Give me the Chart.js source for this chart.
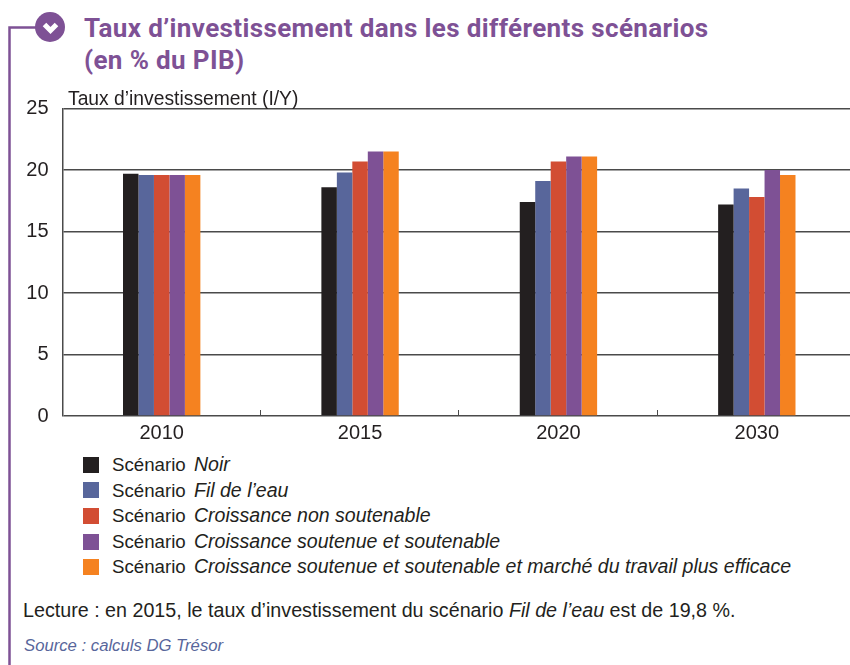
<!DOCTYPE html>
<html lang="fr">
<head>
<meta charset="utf-8">
<script src="https://cdn.jsdelivr.net/npm/chart.js@4"></script>
<style>
  html, body { margin: 0; padding: 0; background: #fff; }
  #page { position: relative; width: 850px; height: 665px; overflow: hidden; color: #231f20; font-family: "Liberation Sans", sans-serif; }
  #page > * { position: absolute; }
  canvas { left: 0; top: 0; }
  #frame { left: 0; top: 0; }
  #title { left: 84px; top: 12px; margin: 0; color: #7e5195; font: 700 26px/32px Roboto, sans-serif; letter-spacing: 0.37px; white-space: nowrap; }
  #axisTitle { left: 68px; top: 89px; font-size: 19.3px; line-height: 20px; white-space: nowrap; }
  #legend { left: 83px; top: 452px; margin: 0; padding: 0; list-style: none; font-size: 18.7px; }
  #legend li { height: 25.6px; line-height: 25.6px; white-space: nowrap; display: flex; align-items: center; }
  #legend i.box { width: 16px; height: 16px; margin-right: 13px; display: block; }
  #legend em { font-size: 19.55px; margin-left: 3px; }
  #note { left: 23px; top: 599px; font-size: 19.7px; line-height: 22px; white-space: nowrap; }
  #source { left: 24px; top: 636px; font-size: 16.7px; line-height: 20px; font-style: italic; color: #58669b; white-space: nowrap; }
</style>
</head>
<body>
<div id="page">
  <svg id="frame" width="850" height="665">
    <path d="M9.5 665V27.5H36" fill="none" stroke="#7e5195" stroke-width="2.5"/>
    <circle cx="50" cy="27" r="15" fill="#7e5195"/>
    <path d="M44.5 24.5l6 6 6-6" fill="none" stroke="#fff" stroke-width="5"/>
  </svg>
  <h1 id="title">Taux d’investissement dans les différents scénarios<br>(en % du PIB)</h1>
  <canvas id="chart" width="856" height="451"></canvas>
  <div id="axisTitle">Taux d’investissement (I/Y)</div>
  <ul id="legend"></ul>
  <div id="note">Lecture : en 2015, le taux d’investissement du scénario <em>Fil de l’eau</em> est de 19,8 %.</div>
  <div id="source">Source : calculs DG Trésor</div>
</div>
<script>
// Données
const categories = ['2010', '2015', '2020', '2030'];
const noir = [19.7, 18.6, 17.4, 17.2];
const filDeLeau = [19.6, 19.8, 19.1, 18.5];
const nonSoutenable = [19.6, 20.7, 20.7, 17.8];
const soutenue = [19.6, 21.5, 21.1, 20.0];
const soutenueTravail = [19.6, 21.5, 21.1, 19.6];

const seriesNames = [
    'Noir',
    'Fil de l’eau',
    'Croissance non soutenable',
    'Croissance soutenue et soutenable',
    'Croissance soutenue et soutenable et marché du travail plus efficace'
];
const seriesValues = [noir, filDeLeau, nonSoutenable, soutenue, soutenueTravail];
const seriesColors = ['#231f20', '#58669b', '#d24d33', '#7e5195', '#f58220'];

const gridColor = '#4a4a4a';

// Légende HTML : le nom du scénario est en italique
const legend = document.getElementById('legend');
seriesNames.forEach((name, i) => {
    const li = document.createElement('li');
    const box = document.createElement('i');
    box.className = 'box';
    box.style.background = seriesColors[i];
    const em = document.createElement('em');
    em.textContent = name;
    li.append(box, 'Scénario\u00a0', em);
    legend.appendChild(li);
});

// Petits traits entre les catégories, tournés vers le haut
const innerTicks = {
    id: 'innerTicks',
    afterDatasetsDraw(chart) {
        const { ctx, scales: { x }, chartArea } = chart;
        ctx.save();
        ctx.strokeStyle = gridColor;
        ctx.lineWidth = 1;
        for (let i = 1; i < categories.length; i++) {
            const px = Math.round((x.getPixelForValue(i - 1) + x.getPixelForValue(i)) / 2) - 0.5;
            ctx.beginPath();
            ctx.moveTo(px, chartArea.bottom);
            ctx.lineTo(px, chartArea.bottom - 6);
            ctx.stroke();
        }
        ctx.restore();
    }
};

new Chart(document.getElementById('chart'), {
    type: 'bar',
    data: {
        labels: categories,
        datasets: seriesNames.map((name, i) => ({
            label: name,
            data: seriesValues[i],
            backgroundColor: seriesColors[i],
            borderWidth: 0,
            categoryPercentage: 0.39,
            barPercentage: 1
        }))
    },
    options: {
        responsive: false,
        animation: false,
        layout: { padding: { top: 108.5, left: 0, right: 0, bottom: 0 } },
        plugins: { legend: { display: false }, title: { display: false }, tooltip: { enabled: false } },
        scales: {
            x: {
                afterFit(scale) { scale.height = 35; },
                grid: { display: false, drawTicks: false },
                border: { display: false },
                ticks: { color: '#231f20', font: { family: 'Liberation Sans', size: 20 }, padding: 5 }
            },
            y: {
                min: 0,
                max: 25,
                afterFit(scale) { scale.width = 62.5; },
                grid: { color: gridColor, lineWidth: 1.5, drawTicks: false },
                border: { color: gridColor, width: 1.5 },
                ticks: { stepSize: 5, color: '#231f20', font: { family: 'Liberation Sans', size: 20 }, padding: 14 }
            }
        }
    },
    plugins: [innerTicks]
});
</script>
</body>
</html>
